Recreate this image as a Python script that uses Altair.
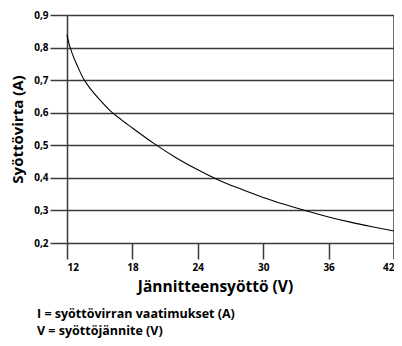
import altair as alt
import pandas as pd

volts = [12, 12.2, 12.5, 13, 13.5, 14, 15, 16, 17, 18, 20, 22, 24, 26, 28, 30, 32, 34, 36, 38, 40, 42]
amps = [0.84, 0.81, 0.78, 0.74, 0.705, 0.68, 0.64, 0.605, 0.578, 0.553, 0.505, 0.462, 0.425, 0.392, 0.365, 0.34, 0.318, 0.298, 0.28, 0.264, 0.25, 0.237]
x_ticks = [12, 18, 24, 30, 36, 42]
y_ticks = [0.2, 0.3, 0.4, 0.5, 0.6, 0.7, 0.8, 0.9]
notes = ["I = syöttövirran vaatimukset (A)", "V = syöttöjännite (V)"]

df = pd.DataFrame({"V": volts, "I": amps})
FONT = "Open Sans"
GRID = "#3a3a3a"

xs = alt.Scale(domain=[12, 42], nice=False, zero=False)
ys = alt.Scale(domain=[0.2, 0.9], nice=False, zero=False)

line = alt.Chart(df).mark_line(color="black", strokeWidth=1.1, interpolate="monotone").encode(
    x=alt.X("V:Q", scale=xs, axis=alt.Axis(
        values=x_ticks, title="Jännitteensyöttö (V)", domain=False, grid=False,
        tickSize=16, tickColor=GRID, tickWidth=1.5, labelPadding=3,
        labelFont=FONT, labelFontSize=10, labelFontWeight="bold", labelColor="black",
        titleFont=FONT, titleFontSize=15.5, titleFontWeight="bold", titleColor="black",
        titlePadding=7, titleX=148, titleAnchor="middle")),
    y=alt.Y("I:Q", scale=ys, axis=alt.Axis(
        values=y_ticks, title="Syöttövirta (A)", domain=True, domainColor=GRID, domainWidth=1.5,
        grid=True, gridColor=GRID, gridWidth=1.5, gridOpacity=1,
        tickSize=17, tickColor=GRID, tickWidth=1.5, labelPadding=2,
        labelExpr="replace(format(datum.value, '.1f'), '.', ',')",
        labelFont=FONT, labelFontSize=10, labelFontWeight="bold", labelColor="black",
        titleFont=FONT, titleFontSize=15, titleFontWeight="bold", titleColor="black",
        titlePadding=8)),
)

right = alt.Chart(pd.DataFrame({"V": [42]})).mark_rule(color=GRID, strokeWidth=1.5).encode(
    x=alt.X("V:Q", scale=xs), y=alt.value(0), y2=alt.value(244))

note_df = pd.DataFrame({"t": notes, "k": [0, 1]})
text = alt.Chart(note_df).mark_text(
    align="left", baseline="middle", font=FONT, fontSize=12.5, fontWeight="bold", color="black"
).encode(
    text="t:N",
    x=alt.value(-30),
    y=alt.Y("k:Q", scale=alt.Scale(domain=[0, 1], range=[299, 316]), axis=None),
)

chart = alt.layer(line, right, text).resolve_scale(y="independent").properties(
    width=327, height=228,
    autosize=alt.AutoSizeParams(type="none"),
    padding={"left": 59, "top": 7, "right": 0, "bottom": 95},
).configure_view(stroke=None)

chart.save("out.html", embed_options={"renderer": "svg", "actions": False})
